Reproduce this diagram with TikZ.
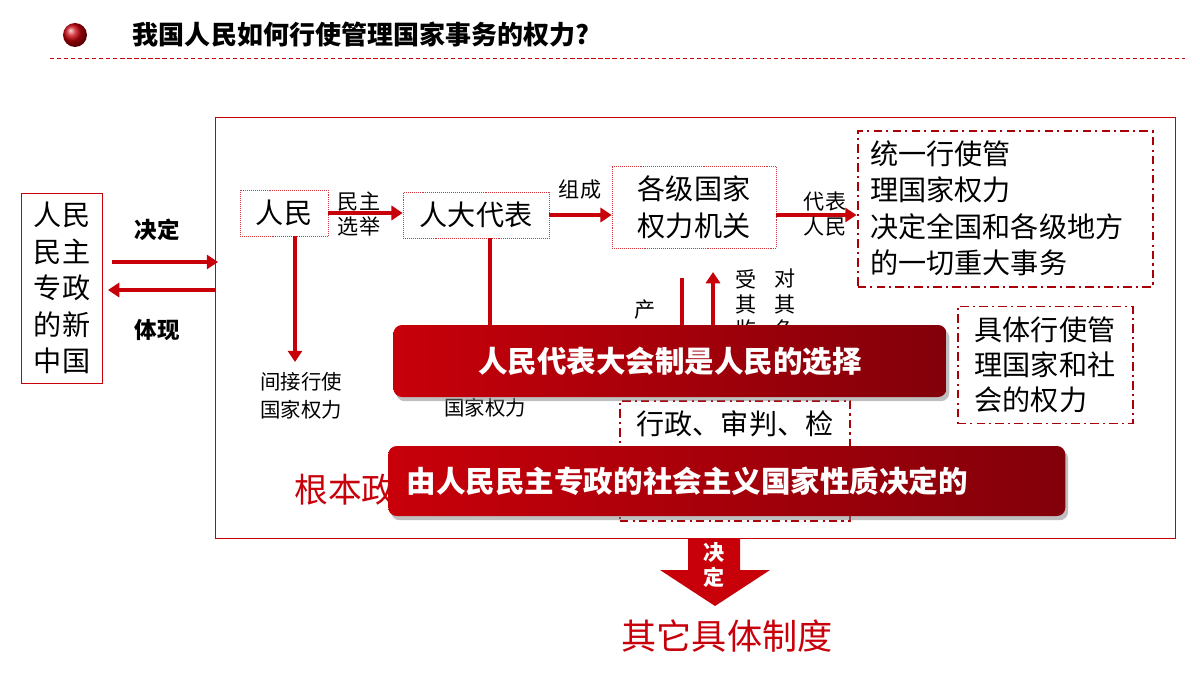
\documentclass[tikz,border=0pt]{standalone}
\usepackage{fontspec}
\setmainfont{Noto Sans CJK SC}
\usetikzlibrary{shadows,arrows.meta}
\definecolor{hongse}{RGB}{200,0,10}
\definecolor{anhong}{RGB}{130,0,10}
\begin{document}
\begin{tikzpicture}[x=0.025cm,y=-0.025cm,
    kuang/.style={draw=hongse!80, densely dotted, thin, inner sep=0pt},
    dkuang/.style={draw=hongse!85!black, line width=1.4pt, dash pattern=on 6pt off 3pt on 1.5pt off 3pt},
    jian/.style={draw=hongse, line width=2.6pt, -{Triangle[length=8pt,width=10pt]}},
    wz/.style={font=\fontsize{15}{19}\selectfont, align=center},
    banner/.style={rounded corners=6pt, left color=hongse, right color=anhong, drop shadow={opacity=0.5, shadow xshift=2pt, shadow yshift=-3pt}},
    btext/.style={text=white, font=\bfseries\fontsize{21}{24}\selectfont}]
\useasboundingbox (0,0) rectangle (1200,675);
% title
\shade[ball color=hongse] (75,35) circle (12);
\node[anchor=west, font=\bfseries\fontsize{18.5}{22}\selectfont] (biaoti) at (128,35) {我国人民如何行使管理国家事务的权力?};
\draw[hongse, densely dashed] (50,58) -- (1185,58);
% frames
\draw[hongse, thin] (215,117) rectangle (1175,538);
\node[draw=hongse, thin, minimum width=81*0.025cm, minimum height=190*0.025cm, wz, font=\fontsize{20}{26}\selectfont] (zhongguo) at (62,288) {人民\\民主\\专政\\的新\\中国};
\coordinate (kuangzuo1) at (218,262);
\coordinate (kuangzuo2) at (215,290);
\draw[jian] (112,262) -- (kuangzuo1);
\draw[jian] (kuangzuo2) -- (108,290);
\node[font=\bfseries\fontsize{16}{18}\selectfont] (jueding) at (157,230) {决定};
\node[font=\bfseries\fontsize{16}{18}\selectfont] (tixian) at (157,330) {体现};
% top row
\node[kuang, minimum width=88*0.025cm, minimum height=46*0.025cm, wz, font=\fontsize{20}{22}\selectfont] (renmin) at (284,213) {人民};
\node[kuang, minimum width=146*0.025cm, minimum height=46*0.025cm, wz, font=\fontsize{20}{22}\selectfont] (renda) at (476,215) {人大代表};
\node[kuang, minimum width=164*0.025cm, minimum height=82*0.025cm, wz, font=\fontsize{20}{26}\selectfont] (jiguan) at (694,207) {各级国家\\权力机关};
\node[dkuang, minimum width=295*0.025cm, minimum height=156*0.025cm, inner sep=0pt] (tongyi) at (1005,209) {};
\node[anchor=north west, align=left, inner sep=0pt, font=\fontsize{20}{26}\selectfont] (tongyiwz) at (870,140) {统一行使管\\理国家权力\\决定全国和各级地方\\的一切重大事务};
\draw[jian] (renmin.east) -- (renda.west |- renmin.east);
\draw[jian] (renda.east) -- (jiguan.west |- renda.east);
\draw[jian] (jiguan.east |- renda.east) -- (tongyi.west |- renda.east);
\node[wz, font=\fontsize{15}{18}\selectfont] (xuanju) at (359,214) {民主\\选举};
\node[wz, font=\fontsize{15}{18}\selectfont] (zucheng) at (580,190) {组成};
\node[wz, font=\fontsize{15}{18}\selectfont] (daibiao) at (825,214) {代表\\人民};
% lower parts
\coordinate (jianjie) at (295,362);
\draw[jian] (renmin.south -| jianjie) -- (jianjie);
\node[wz, font=\fontsize{14.5}{20}\selectfont] (jianjiewz) at (301,396) {间接行使\\国家权力};
\coordinate (rendaxia) at (490,330);
\draw[hongse, line width=2.6pt] (renda.south -| rendaxia) -- (rendaxia);
\node[wz, font=\fontsize{14.5}{20}\selectfont] (guojia) at (485,408) {国家权力};
\coordinate (chan1) at (682,278);
\coordinate (chan2) at (682,330);
\draw[hongse, line width=2.6pt] (chan1) -- (chan2);
\coordinate (shou1) at (713,330);
\coordinate (shou2) at (713,272);
\draw[jian] (shou1) -- (shou2);
\node[font=\fontsize{15}{18}\selectfont] (chan) at (645,310) {产};
\node[wz, font=\fontsize{15}{18}\selectfont] (shouqi) at (746,304) {受\\其\\监};
\node[wz, font=\fontsize{15}{18}\selectfont] (duiqi) at (785,304) {对\\其\\负};
\node[dkuang, minimum width=175*0.025cm, minimum height=117*0.025cm, align=left, font=\fontsize{20}{25}\selectfont] (juti) at (1045,365) {具体行使管\\理国家和社\\会的权力};
\node[dkuang, minimum width=230*0.025cm, minimum height=120*0.025cm, anchor=north] (xingzheng) at (735,400) {};
\node[font=\fontsize{20}{24}\selectfont] (xzwz) at (735,424) {行政、审判、检};
\node[text=hongse, font=\fontsize{24}{28}\selectfont] (genben) at (345,490) {根本政};
% banners
\node[banner, minimum width=553*0.025cm, minimum height=72*0.025cm, btext] (xuanze) at (670,361) {人民代表大会制是人民的选择};
\node[banner, minimum width=677*0.025cm, minimum height=70*0.025cm, btext, anchor=west, text width=640*0.025cm] (xingzhi) at (388,481) {由人民民主专政的社会主义国家性质决定的};
% bottom arrow
\fill[hongse] (688,538) -- (740,538) -- (740,570) -- (770,570) -- (715,606) -- (660,570) -- (688,570) -- cycle;
\node[text=white, font=\bfseries\fontsize{15}{18}\selectfont, align=center] (juedingxia) at (714,565) {决\\定};
\node[text=hongse, font=\fontsize{25}{29}\selectfont] (qita) at (727,636) {其它具体制度};
\end{tikzpicture}
\end{document}
